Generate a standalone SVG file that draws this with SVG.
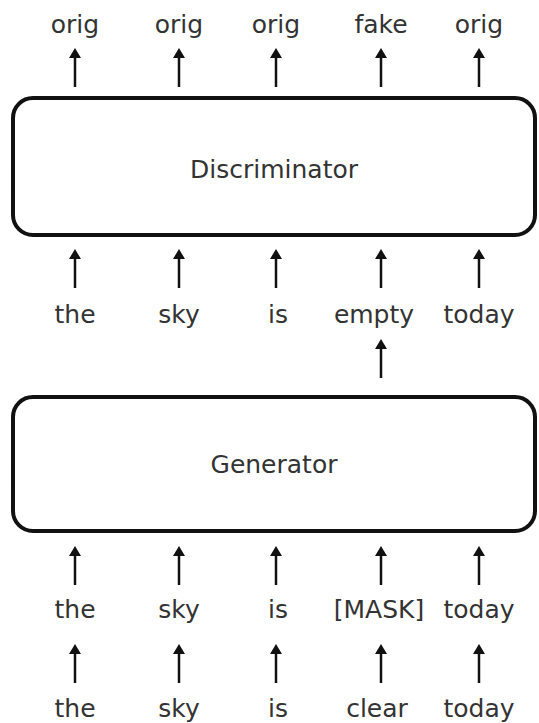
<svg xmlns="http://www.w3.org/2000/svg" width="539" height="723" viewBox="0 0 539 723">
<defs>
<marker id="ah" markerWidth="10" markerHeight="12" refX="2" refY="6" markerUnits="userSpaceOnUse" orient="auto" viewBox="0 0 10 12">
<path d="M0,0 L10,6 L0,12 Z" fill="#111"/>
</marker>
<style>
.box{fill:#fff;stroke:#111;stroke-width:4}
.t{font-family:"DejaVu Sans",sans-serif;font-size:25px;fill:#333;text-anchor:middle}
.a{stroke:#111;stroke-width:2.5;fill:none;marker-end:url(#ah)}
</style>
</defs>
<rect width="539" height="723" fill="#fff"/>
<g id="discriminator">
<rect class="box" x="13" y="98" width="522" height="137" rx="20"/>
<text class="t" x="274" y="178">Discriminator</text>
</g>
<g id="generator">
<rect class="box" x="13" y="397" width="522" height="134" rx="20"/>
<text class="t" x="274" y="473">Generator</text>
</g>
<g id="labels">
<text class="t" x="75" y="33">orig</text>
<text class="t" x="179" y="33">orig</text>
<text class="t" x="276" y="33">orig</text>
<text class="t" x="381" y="33">fake</text>
<text class="t" x="479" y="33">orig</text>
<text class="t" x="75" y="323">the</text>
<text class="t" x="179" y="323">sky</text>
<text class="t" x="278" y="323">is</text>
<text class="t" x="374" y="323">empty</text>
<text class="t" x="479" y="323">today</text>
<text class="t" x="75" y="618">the</text>
<text class="t" x="179" y="618">sky</text>
<text class="t" x="278" y="618">is</text>
<text class="t" x="379" y="618">[MASK]</text>
<text class="t" x="479" y="618">today</text>
<text class="t" x="75" y="717">the</text>
<text class="t" x="179" y="717">sky</text>
<text class="t" x="278" y="717">is</text>
<text class="t" x="377" y="717">clear</text>
<text class="t" x="479" y="717">today</text>
</g>
<g id="connectors">
<line class="a" x1="75" y1="87" x2="75" y2="56"/>
<line class="a" x1="179" y1="87" x2="179" y2="56"/>
<line class="a" x1="276" y1="87" x2="276" y2="56"/>
<line class="a" x1="381" y1="87" x2="381" y2="56"/>
<line class="a" x1="479" y1="87" x2="479" y2="56"/>
<line class="a" x1="75" y1="288" x2="75" y2="257"/>
<line class="a" x1="179" y1="288" x2="179" y2="257"/>
<line class="a" x1="276" y1="288" x2="276" y2="257"/>
<line class="a" x1="381" y1="288" x2="381" y2="257"/>
<line class="a" x1="479" y1="288" x2="479" y2="257"/>
<line class="a" x1="381" y1="378" x2="381" y2="347"/>
<line class="a" x1="75" y1="585" x2="75" y2="554"/>
<line class="a" x1="179" y1="585" x2="179" y2="554"/>
<line class="a" x1="276" y1="585" x2="276" y2="554"/>
<line class="a" x1="381" y1="585" x2="381" y2="554"/>
<line class="a" x1="479" y1="585" x2="479" y2="554"/>
<line class="a" x1="75" y1="683" x2="75" y2="652"/>
<line class="a" x1="179" y1="683" x2="179" y2="652"/>
<line class="a" x1="276" y1="683" x2="276" y2="652"/>
<line class="a" x1="381" y1="683" x2="381" y2="652"/>
<line class="a" x1="479" y1="683" x2="479" y2="652"/>
</g>
</svg>
